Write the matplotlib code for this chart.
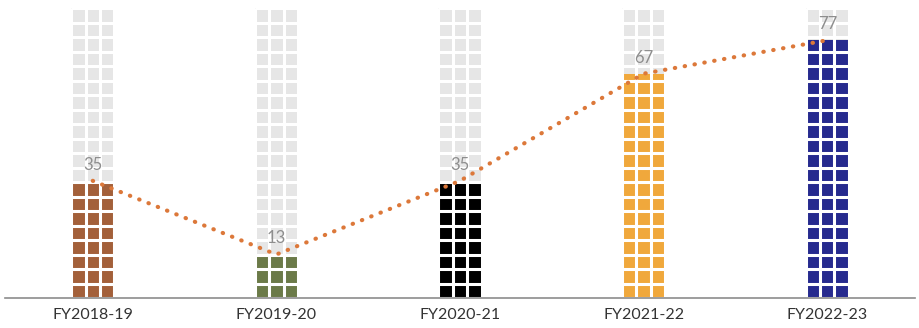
import numpy as np
import matplotlib.pyplot as plt

years = ['FY2018-19', 'FY2019-20', 'FY2020-21', 'FY2021-22', 'FY2022-23']
values = [35, 13, 35, 67, 77]
colors = ['#A3603A', '#6B7A48', '#000000', '#F0A83C', '#262A8E']

# each column is a 3 x 20 block of cells on a light backdrop
n_cols = 3
n_rows = 20
cell = 4.33
full = n_rows * cell
bar_w = 0.235

fig = plt.figure(figsize=(9.2, 3.28), dpi=100)
ax = fig.add_axes([0.005, 30 / 328, 0.99, 298 / 328])

x = np.arange(len(years))
ax.bar(x, full, width=bar_w, color='#E6E6E6', zorder=1)
ax.bar(x, values, width=bar_w, color=colors, zorder=2)

# white gaps between cells
for xi in x:
    left = xi - bar_w / 2
    ax.hlines(np.arange(0, n_rows + 1) * cell, left, left + bar_w,
              color='white', lw=2.2, zorder=3)
    ax.vlines(left + bar_w * np.arange(0, n_cols + 1) / n_cols, 0, full,
              color='white', lw=2.2, zorder=3)

ax.plot(x, values, linestyle=(0, (0.1, 2.3)), dash_capstyle='round',
        lw=3.0, color='#DC783A', zorder=4)

for xi, v in zip(x, values):
    ax.text(xi, v + 2.4, str(v), ha='center', va='bottom',
            fontsize=12, color='#8E8E8E', family='Lato', zorder=5)

ax.set_xlim(-0.48, 4.48)
ax.set_ylim(0, 89)
ax.set_xticks(x)
ax.set_xticklabels(years, fontsize=11.5, color='#333333', family='Lato')
ax.tick_params(axis='x', length=0, pad=7)
ax.set_yticks([])
for s in ['top', 'right', 'left']:
    ax.spines[s].set_visible(False)
ax.spines['bottom'].set_color('#8C8C8C')
ax.spines['bottom'].set_linewidth(1.2)
ax.spines['bottom'].set_zorder(6)

fig.savefig('out.png', dpi=100)
